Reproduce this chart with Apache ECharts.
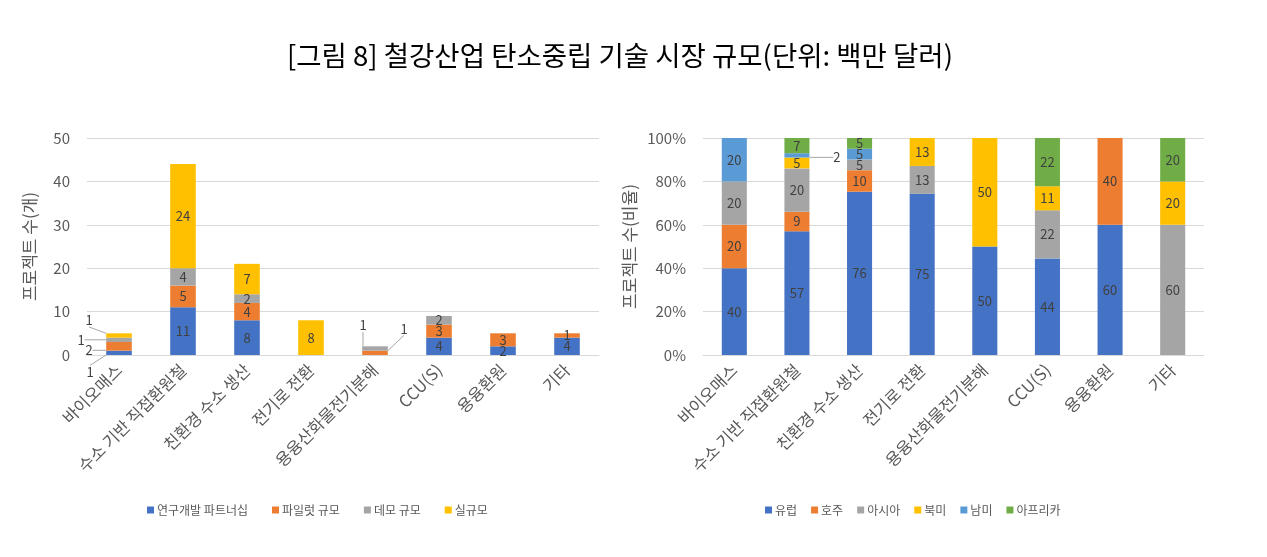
<!DOCTYPE html>
<html>
<head>
<meta charset="utf-8">
<script src="https://cdn.jsdelivr.net/npm/echarts@6/dist/echarts.min.js"></script>
<style>
html,body{margin:0;padding:0;background:#fff;}
#c{width:1267px;height:557px;}
</style>
</head>
<body>
<div id="c"></div>
<script>
const categories = ['바이오매스','수소 기반 직접환원철','친환경 수소 생산','전기로 전환','용융산화물전기분해','CCU(S)','용융환원','기타'];

// Left chart: project counts by stage
const leftNames = ['연구개발 파트너십','파일럿 규모','데모 규모','실규모'];
const rdPartnership = [1, 11, 8, 0, 0, 4, 2, 4];
const pilotScale    = [2, 5, 4, 0, 1, 3, 3, 1];
const demoScale     = [1, 4, 2, 0, 1, 2, 0, 0];
const fullScale     = [1, 24, 7, 8, 0, 0, 0, 0];
const leftTicks = [0, 10, 20, 30, 40, 50];

// Right chart: share by region (%)
const rightNames = ['유럽','호주','아시아','북미','남미','아프리카'];
const europe       = [40, 57, 76, 75, 50, 44, 60, 0];
const australia    = [20, 9, 10, 0, 0, 0, 40, 0];
const asia         = [20, 20, 5, 13, 0, 22, 0, 60];
const northAmerica = [0, 5, 0, 13, 50, 11, 0, 20];
const southAmerica = [20, 2, 5, 0, 0, 0, 0, 0];
const africa       = [0, 7, 5, 0, 0, 22, 0, 20];
const rightTicks = [0, 20, 40, 60, 80, 100];

const leftData = [rdPartnership, pilotScale, demoScale, fullScale];
const rightData = [europe, australia, asia, northAmerica, southAmerica, africa];
const leftColors = ['#4472C4','#ED7D31','#A5A5A5','#FFC000'];
const rightColors = ['#4472C4','#ED7D31','#A5A5A5','#FFC000','#5B9BD5','#70AD47'];

const FONT = '"Noto Sans CJK KR", "Noto Sans", sans-serif';
const TXT = '#595959';

// outside labels with leader lines: [seriesIdx, dataIdx, dx, dy]
const leftOutside = [[0,0,-29,19],[1,0,-30,4],[2,0,-38,0],[3,0,-30,-15],[2,4,-12,-23],[1,4,29,-24]];
const rightOutside = [[4,1,40,2]];

function findOut(list, s, d){
  for (const o of list) if (o[0]===s && o[1]===d) return o;
  return null;
}

const totals = categories.map((_, i) => rightData.reduce((a, arr) => a + arr[i], 0));

const series = [];
leftData.forEach((arr, s) => {
  series.push({
    name: leftNames[s], type: 'bar', stack: 'L', xAxisIndex: 0, yAxisIndex: 0,
    barWidth: '40%', itemStyle: {color: leftColors[s]},
    data: arr.map((v, i) => {
      const o = findOut(leftOutside, s, i);
      return o ? {value: v, labelLine: {show: true, lineStyle: {color: '#A6A6A6', width: 1}}} : v;
    }),
    label: {show: true, position: 'inside', color: '#404040', fontSize: 13, fontFamily: FONT,
      formatter: p => (arr[p.dataIndex] ? String(arr[p.dataIndex]) : '')},
    labelLayout: p => { const o = findOut(leftOutside, s, p.dataIndex); return o ? {dx: o[2], dy: o[3]} : {}; },
    emphasis: {disabled: true}, animation: false
  });
});
rightData.forEach((arr, s) => {
  series.push({
    name: rightNames[s], type: 'bar', stack: 'R', xAxisIndex: 1, yAxisIndex: 1,
    barWidth: '40%', itemStyle: {color: rightColors[s]},
    data: arr.map((v, i) => {
      const val = v / totals[i] * 100;
      const o = findOut(rightOutside, s, i);
      return o ? {value: val, labelLine: {show: true, lineStyle: {color: '#A6A6A6', width: 1}}} : val;
    }),
    label: {show: true, position: 'inside', color: '#404040', fontSize: 13, fontFamily: FONT,
      formatter: p => (arr[p.dataIndex] ? String(arr[p.dataIndex]) : '')},
    labelLayout: p => { const o = findOut(rightOutside, s, p.dataIndex); return o ? {dx: o[2], dy: o[3]} : {}; },
    emphasis: {disabled: true}, animation: false
  });
});

const xAxisCommon = {
  type: 'category', data: categories,
  axisLine: {lineStyle: {color: '#D9D9D9'}}, axisTick: {show: false},
  axisLabel: {rotate: 45, color: TXT, fontSize: 16.5, fontFamily: FONT, margin: 12, interval: 0}
};
const yAxisCommon = {
  type: 'value', min: 0, nameLocation: 'middle', nameRotate: 90,
  nameTextStyle: {color: TXT, fontSize: 17, fontFamily: FONT},
  axisLine: {show: false}, axisTick: {show: false},
  splitLine: {lineStyle: {color: '#D9D9D9'}}
};

const chart = echarts.init(document.getElementById('c'));
chart.setOption({
  backgroundColor: '#fff',
  animation: false,
  title: {text: '[그림 8] 철강산업 탄소중립 기술 시장 규모(단위: 백만 달러)', left: 282, top: 37,
    textStyle: {color: '#000', fontSize: 27.5, fontWeight: 'normal', fontFamily: FONT}},
  legend: [
    {data: leftNames, left: 142, top: 499, itemWidth: 7, itemHeight: 7, itemGap: 24, icon: 'rect',
      textStyle: {color: TXT, fontSize: 12, fontFamily: FONT, padding: [0,0,0,-2]}, selectedMode: false},
    {data: rightNames, left: 760, top: 499, itemWidth: 7, itemHeight: 7, itemGap: 14, icon: 'rect',
      textStyle: {color: TXT, fontSize: 12, fontFamily: FONT, padding: [0,0,0,-2]}, selectedMode: false}
  ],
  grid: [
    {left: 87, width: 512, top: 138, height: 217},
    {left: 703, width: 501, top: 138, height: 217}
  ],
  xAxis: [Object.assign({gridIndex: 0}, xAxisCommon), Object.assign({gridIndex: 1}, xAxisCommon)],
  yAxis: [
    Object.assign({}, yAxisCommon, {gridIndex: 0, max: leftTicks[leftTicks.length-1], interval: leftTicks[1]-leftTicks[0],
      name: '프로젝트 수(개)', nameGap: 49,
      axisLabel: {color: TXT, fontSize: 15, fontFamily: FONT, margin: 17}}),
    Object.assign({}, yAxisCommon, {gridIndex: 1, max: rightTicks[rightTicks.length-1], interval: rightTicks[1]-rightTicks[0],
      name: '프로젝트 수(비율)', nameGap: 65,
      axisLabel: {color: TXT, fontSize: 15, fontFamily: FONT, margin: 17, formatter: '{value}%'}})
  ],
  series: series
});
</script>
</body>
</html>
